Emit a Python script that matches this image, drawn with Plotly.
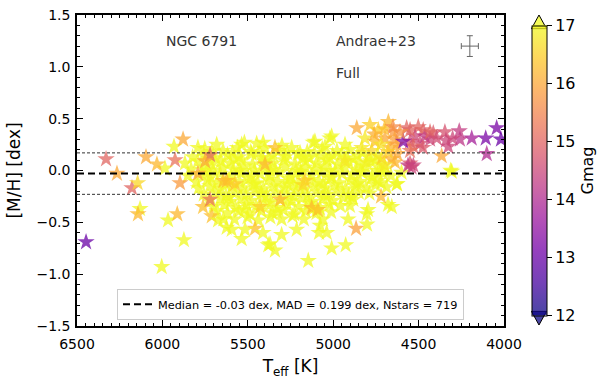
import plotly.graph_objects as go

# ---------------- data ----------------
# dense core of the cluster: (Teff [K], [M/H] [dex]); all are faint (Gmag >= 17)
core_stars = [
    (5752,0.21),(5645,0.19),(5561,0.22),(5483,0.18),(5402,0.21),(5318,0.19),(5243,0.22),(5152,0.18),(5064,0.21),(4978,0.19),(4903,0.20),
    (5823,0.13),(5757,0.15),(5688,0.12),(5619,0.15),(5552,0.13),(5478,0.16),(5417,0.12),(5352,0.15),(5281,0.13),(5208,0.16),(5141,0.12),(5069,0.14),(5003,0.15),(4932,0.12),(4858,0.15),(4792,0.13),
    (5868,0.07),(5793,0.09),(5712,0.06),(5657,0.09),(5602,0.07),(5538,0.10),(5472,0.06),(5408,0.09),(5351,0.07),(5288,0.10),(5223,0.06),(5162,0.09),(5098,0.07),(5037,0.10),(4973,0.06),(4912,0.09),(4848,0.07),(4781,0.09),(4722,0.06),
    (5832,0.01),(5762,0.03),(5703,0.00),(5648,0.03),(5583,0.01),(5519,0.04),(5461,0.00),(5398,0.03),(5342,0.01),(5279,0.04),(5218,0.00),(5163,0.03),(5108,0.01),(5052,0.04),(4988,0.00),(4931,0.03),(4868,0.01),(4812,0.04),(4748,0.00),(4693,0.02),
    (5851,-0.05),(5771,-0.03),(5718,-0.06),(5662,-0.03),(5598,-0.05),(5541,-0.02),(5482,-0.06),(5428,-0.03),(5369,-0.05),(5312,-0.02),(5248,-0.06),(5192,-0.03),(5128,-0.05),(5071,-0.02),(5012,-0.06),(4948,-0.03),(4891,-0.05),(4829,-0.02),(4772,-0.06),(4708,-0.03),(4662,-0.05),
    (5802,-0.11),(5738,-0.09),(5681,-0.12),(5612,-0.09),(5548,-0.11),(5497,-0.08),(5441,-0.12),(5379,-0.09),(5322,-0.11),(5258,-0.08),(5201,-0.12),(5138,-0.09),(5082,-0.11),(5018,-0.08),(4962,-0.12),(4898,-0.09),(4842,-0.11),(4778,-0.08),(4718,-0.12),
    (5788,-0.17),(5722,-0.15),(5659,-0.18),(5591,-0.15),(5528,-0.17),(5471,-0.14),(5409,-0.18),(5352,-0.15),(5288,-0.17),(5232,-0.14),(5168,-0.18),(5112,-0.15),(5048,-0.17),(4992,-0.14),(4928,-0.18),(4872,-0.15),(4808,-0.17),(4752,-0.14),(4688,-0.16),
    (5758,-0.23),(5692,-0.21),(5628,-0.24),(5571,-0.21),(5508,-0.23),(5452,-0.20),(5388,-0.24),(5331,-0.21),(5268,-0.23),(5212,-0.20),(5148,-0.24),(5091,-0.21),(5028,-0.23),(4972,-0.20),(4908,-0.24),(4851,-0.21),(4788,-0.22),
    (5728,-0.29),(5662,-0.27),(5601,-0.30),(5538,-0.27),(5482,-0.29),(5418,-0.26),(5362,-0.30),(5298,-0.27),(5242,-0.29),(5178,-0.26),(5122,-0.30),(5058,-0.27),(5002,-0.29),(4938,-0.26),(4882,-0.28),
    (5702,-0.35),(5638,-0.33),(5572,-0.36),(5508,-0.33),(5452,-0.35),(5388,-0.32),(5331,-0.36),(5268,-0.33),(5202,-0.35),(5142,-0.32),(5078,-0.36),(5022,-0.33),(4958,-0.34),
    (5618,-0.41),(5552,-0.39),(5488,-0.42),(5421,-0.39),(5358,-0.41),(5292,-0.38),(5228,-0.42),(5162,-0.39),(5098,-0.41),(5012,-0.40),
    (5578,-0.47),(5502,-0.45),(5438,-0.48),(5368,-0.45),(5302,-0.47),(5238,-0.44),(5172,-0.47),
    (5792,0.22),(5682,0.25),(5536,0.25),(5448,0.26),(5410,0.27),(5520,0.27),(5107,0.28),(5009,0.33),(5117,0.27),
    (5019,0.31),(4931,0.25),(5048,0.23),(5194,0.17),(5300,0.24),(5932,0.23),(5985,0.02),
    (5710,0.18),(5590,0.17),(5440,0.17),(5270,0.17),(5110,0.17),(4950,0.16),(4830,0.17),
    (5730,0.11),(5580,0.11),(5380,0.12),(5180,0.12),(5020,0.12),(4880,0.11),(4750,0.10),
    (5740,-0.00),(5550,-0.00),(5370,-0.00),(5190,-0.01),(5020,0.00),(4840,-0.01),(4720,-0.00),
    (5630,-0.13),(5460,-0.13),(5270,-0.13),(5060,-0.13),(4860,-0.13),(4740,-0.10),
    (5610,-0.26),(5420,-0.22),(5230,-0.25),(5050,-0.24),(4890,-0.25),
    (5520,-0.38),(5330,-0.40),(5120,-0.37),(5680,-0.39),
]
CORE_GMAG = 17.5

# individual stars: (Teff [K], [M/H] [dex], Gmag)
field_stars = [
    (6447,-0.69,13.0),(6330,0.11,15.0),(6266,-0.03,16.0),(6178,-0.17,15.0),(6145,-0.12,16.6),
    (6131,-0.37,17.5),(6143,-0.42,16.2),(6096,0.13,16.0),(6032,0.06,16.2),(5926,0.10,15.2),
    (5879,0.30,16.0),(5897,-0.12,15.8),(5967,-0.48,17.5),(5913,-0.42,16.2),(5874,-0.67,17.5),
    (6004,-0.93,17.5),(5762,-0.35,16.3),(5711,-0.44,16.3),(5624,-0.55,17.5),(5674,-0.48,17.5),
    (5536,-0.66,17.5),(5458,-0.56,16.3),(5370,-0.71,17.5),(5341,-0.77,17.5),(5302,-0.62,17.5),
    (5411,-0.60,17.5),(5516,-0.57,17.5),(5126,-0.36,16.2),(5097,-0.38,17.5),(4902,-0.34,17.5),
    (4796,-0.38,17.5),(4679,-0.33,17.5),(4913,-0.47,17.5),(4804,-0.42,17.5),(4866,-0.56,15.9),
    (4802,-0.52,17.5),(5060,-0.47,17.5),(5083,-0.60,17.5),(5214,-0.57,17.5),(5009,-0.75,17.5),
    (4927,-0.72,17.5),(5146,-0.87,17.5),(4626,-0.13,17.5),(4306,-0.01,17.5),(4720,-0.25,16.2),
    (4657,-0.35,17.5),(5077,-0.53,17.5),(5038,-0.60,17.5),(5594,-0.57,17.5),(5643,-0.47,17.5),
    (5380,-0.72,17.5),
    (5721,0.15,15.0),(5750,0.09,16.0),(5792,-0.03,16.0),(5624,-0.10,16.2),(5575,-0.13,16.4),
    (5643,-0.10,16.3),(5721,-0.28,15.2),(5399,0.06,16.2),(5311,-0.28,16.2),(5428,-0.35,16.5),
    (5165,-0.10,16.4),(5090,-0.38,16.3),(5177,-0.14,16.6),(5341,0.22,16.3),(4931,0.09,16.8),
]

# cool, metal-rich giants (upper right)
giant_stars = [
    (4862,0.41,16.0),(4785,0.44,16.5),(4677,0.47,16.2),(4648,0.37,15.8),(4736,0.39,16.5),
    (4814,0.31,16.8),(4755,0.28,16.3),(4697,0.31,16.0),(4667,0.22,16.2),(4775,0.19,16.6),
    (4833,0.22,16.8),(4716,0.12,16.4),(4657,0.11,16.1),(4804,0.08,16.9),(4638,0.08,16.2),
    (4628,0.25,16.0),(4600,-0.02,17.5),(4628,-0.13,17.5),(4700,0.40,16.3),(4760,0.35,16.1),
    (4640,0.30,15.9),(4680,0.18,16.5),(4720,0.25,16.7),(4650,0.42,15.6),(4700,0.05,16.8),
    (4740,0.15,16.9),(4625,0.16,16.0),
    (4043,0.41,13.2),(4018,0.30,13.0),(4107,0.31,13.2),(4189,0.31,13.8),(4101,0.16,14.0),
    (4262,0.38,14.3),(4258,0.30,14.2),(4301,0.31,14.5),(4346,0.37,14.7),(4340,0.29,14.5),
    (4326,0.23,14.5),(4365,0.14,16.0),(4414,0.36,14.8),(4433,0.30,14.5),(4473,0.39,15.0),
    (4502,0.42,15.0),(4521,0.33,14.5),(4492,0.26,14.6),(4463,0.33,14.3),(4550,0.39,15.0),
    (4550,0.28,14.7),(4531,0.23,15.0),(4590,0.28,13.3),(4570,0.41,15.0),(4609,0.37,15.7),
    (4550,0.07,14.8),(4531,0.05,14.5),(4433,0.37,15.0),(4394,0.31,14.6),(4312,0.00,17.5),
    (4562,0.05,14.3),(4541,0.03,14.5),(4475,0.22,14.8),(4550,0.19,15.2),
]

median_mh = -0.03
mad_mh = 0.199
n_stars = 719
x_ticks = [6500, 6000, 5500, 5000, 4500, 4000]
y_ticks = [-1.5, -1.0, -0.5, 0.0, 0.5, 1.0, 1.5]
cbar_ticks = [12, 13, 14, 15, 16, 17]
err_teff, err_mh = 50, 0.1

# ---------------- build ----------------
teff = [s[0] for s in core_stars] + [s[0] for s in field_stars] + [s[0] for s in giant_stars]
mh = [s[1] for s in core_stars] + [s[1] for s in field_stars] + [s[1] for s in giant_stars]
gmag = [CORE_GMAG] * len(core_stars) + [s[2] for s in field_stars] + [s[2] for s in giant_stars]

plasma = ['#0d0887', '#46039f', '#7201a8', '#9c179e', '#bd3786',
          '#d8576b', '#ed7953', '#fb9f3a', '#fdca26', '#f0f921']
alpha = 0.75
def rgba(h):
    h = h.lstrip('#')
    return 'rgba(%d,%d,%d,%.2f)' % (int(h[0:2], 16), int(h[2:4], 16), int(h[4:6], 16), alpha)
cscale = [[i / (len(plasma) - 1), rgba(c)] for i, c in enumerate(plasma)]

FONT = "DejaVu Sans"
fig = go.Figure()

fig.add_trace(go.Scatter(
    x=teff, y=mh, mode='markers', showlegend=False, hoverinfo='skip',
    marker=dict(symbol='star', size=13, color=gmag, colorscale=cscale, cmin=12, cmax=17,
                line=dict(width=0),
                colorbar=dict(
                    thickness=15, lenmode='pixels', len=290, x=1.065, xanchor='left',
                    y=0.5, yanchor='middle', xpad=0, ypad=0,
                    outlinewidth=1, outlinecolor='black',
                    tickvals=cbar_ticks, ticks='outside', ticklen=5, tickcolor='black',
                    tickfont=dict(family=FONT, size=16, color='black'),
                    title=dict(text='Gmag', side='right', font=dict(family=FONT, size=16, color='black')),
                ))))

# median line (legend entry)
fig.add_trace(go.Scatter(
    x=[x_ticks[0], x_ticks[-1]], y=[median_mh, median_mh], mode='lines',
    line=dict(color='black', width=2, dash='7px,4px'),
    name='Median = %.2f dex, MAD = %.3f dex, Nstars = %d' % (median_mh, mad_mh, n_stars)))

for yv in (median_mh + 0.2, median_mh - 0.2):
    fig.add_trace(go.Scatter(
        x=[x_ticks[0], x_ticks[-1]], y=[yv, yv], mode='lines', showlegend=False,
        line=dict(color='#333333', width=1, dash='3px,2px'), hoverinfo='skip'))

# typical error cross
fig.add_trace(go.Scatter(
    x=[4200], y=[1.2], mode='markers', showlegend=False, marker=dict(size=1, color='rgba(0,0,0,0)'),
    error_x=dict(type='data', array=[err_teff], color='#666666', thickness=1, width=3),
    error_y=dict(type='data', array=[err_mh], color='#666666', thickness=1, width=3)))

annos = [
    dict(x=5770, y=1.25, text='NGC 6791', xanchor='center'),
    dict(x=4995, y=1.25, text='Andrae+23', xanchor='left'),
    dict(x=4995, y=0.94, text='Full', xanchor='left'),
]
for a in annos:
    fig.add_annotation(x=a['x'], y=a['y'], text=a['text'], xanchor=a['xanchor'], yanchor='middle',
                       showarrow=False, font=dict(family=FONT, size=14, color='#333333'))

# colorbar extension triangles
def px2paper(px, py):
    return (px - 77) / 427.0, (326 - py) / 319.0
cx0, cx1 = 531.5, 546.5
cxm = (cx0 + cx1) / 2
for (base, tip, col) in ((21, 7, rgba('#f0f921')), (311, 325, rgba('#0d0887'))):
    p0 = px2paper(cx0, base); p1 = px2paper(cx1, base); pt = px2paper(cxm, tip)
    path = 'M %f %f L %f %f L %f %f Z' % (p0[0], p0[1], p1[0], p1[1], pt[0], pt[1])
    fig.add_shape(type='path', path=path, xref='paper', yref='paper',
                  fillcolor=col, line=dict(color='black', width=1), layer='above')

axis_common = dict(showgrid=False, zeroline=False, showline=True, linecolor='black', linewidth=1.5,
                   mirror='allticks', ticks='inside', ticklen=6, tickwidth=1.2, tickcolor='black',
                   tickfont=dict(family=FONT, size=14, color='black'))
fig.update_xaxes(range=[6500, 4000], tickvals=x_ticks, ticklabelstandoff=4,
                 minor=dict(dtick=50, ticks='inside', ticklen=3, tickcolor='black', tickwidth=1),
                 title=dict(text='T<sub>eff</sub> [K]', font=dict(family=FONT, size=17, color='black'), standoff=10),
                 **axis_common)
fig.update_yaxes(range=[-1.5, 1.5], tickvals=y_ticks, tickformat='.1f', ticklabelstandoff=2,
                 minor=dict(dtick=0.1, ticks='inside', ticklen=3, tickcolor='black', tickwidth=1),
                 title=dict(text='[M/H] [dex]', font=dict(family=FONT, size=17, color='black'), standoff=12),
                 **axis_common)

fig.update_layout(
    width=611, height=382, margin=dict(l=77, r=107, t=7, b=56),
    paper_bgcolor='white', plot_bgcolor='white',
    font=dict(family=FONT, color='black'),
    legend=dict(x=0.5, xanchor='center', y=0.02, yanchor='bottom', bgcolor='rgba(255,255,255,0.8)',
                bordercolor='#cccccc', borderwidth=1, font=dict(family=FONT, size=11.3, color='black'),
                itemwidth=30),
)

fig.write_html('out.html', config={'displayModeBar': False},
               post_script="document.body.style.margin='0px';")
